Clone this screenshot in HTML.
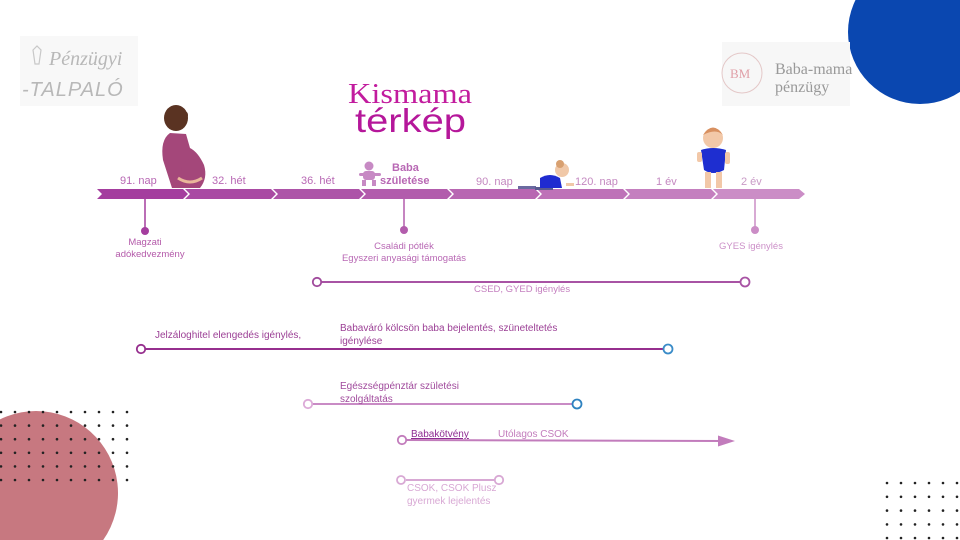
<!DOCTYPE html>
<html><head><meta charset="utf-8">
<style>
html,body{margin:0;padding:0;background:#fff;width:960px;height:540px;overflow:hidden}
svg{display:block;overflow:hidden}
</style></head><body>
<svg width="960" height="540" viewBox="0 0 960 540" xmlns="http://www.w3.org/2000/svg" font-family="Liberation Sans, sans-serif">
<!-- blue circle -->
<circle cx="920" cy="32" r="72" fill="#0a47b0"/>
<!-- bottom-left -->
<path d="M103.2 540 A82 82 0 1 0 -31.2 540 Z" fill="#c77880"/>
<g fill="#222">
<g id="rowl">
<circle cx="1" cy="412" r="1.3"/><circle cx="15" cy="412" r="1.3"/><circle cx="29" cy="412" r="1.3"/><circle cx="43" cy="412" r="1.3"/><circle cx="57" cy="412" r="1.3"/><circle cx="71" cy="412" r="1.3"/><circle cx="85" cy="412" r="1.3"/><circle cx="99" cy="412" r="1.3"/><circle cx="113" cy="412" r="1.3"/><circle cx="127" cy="412" r="1.3"/>
</g>
<use href="#rowl" y="13.6"/><use href="#rowl" y="27.2"/><use href="#rowl" y="40.8"/><use href="#rowl" y="54.4"/><use href="#rowl" y="68"/>
<g id="rowr">
<circle cx="887" cy="483" r="1.3"/><circle cx="901" cy="483" r="1.3"/><circle cx="915" cy="483" r="1.3"/><circle cx="929" cy="483" r="1.3"/><circle cx="943" cy="483" r="1.3"/><circle cx="957" cy="483" r="1.3"/>
</g>
<use href="#rowr" y="13.8"/><use href="#rowr" y="27.6"/><use href="#rowr" y="41.4"/><use href="#rowr" y="55"/>
</g>
<!-- logos -->
<rect x="20" y="36" width="118" height="70" fill="#f8f8f8"/>
<path d="M33 50 l4 -4 l4 4 l-2 14 h-4 z" fill="none" stroke="#c8c8c8" stroke-width="1.2"/>
<text x="49" y="65" font-family="Liberation Serif, serif" font-style="italic" font-size="20" fill="#b8b8b8">Pénzügyi</text>
<text x="22" y="96" font-size="20" font-style="italic" fill="#b8b8b8" letter-spacing="1">-TALPALÓ</text>
<rect x="722" y="42" width="128" height="64" fill="#f7f7f7"/>
<circle cx="742" cy="73" r="20" fill="none" stroke="#e4c8c8" stroke-width="1"/>
<text x="730" y="78" font-size="13" fill="#e0a0a8" font-family="Liberation Serif, serif">BM</text>
<text x="775" y="74" font-family="Liberation Serif, serif" font-size="16" fill="#999">Baba-mama</text>
<text x="775" y="92" font-family="Liberation Serif, serif" font-size="16" fill="#999">pénzügy</text>
<!-- title -->
<text x="348" y="103" font-family="Liberation Serif, serif" font-size="29" fill="#c21c9e" textLength="124" lengthAdjust="spacingAndGlyphs">Kismama</text>
<text x="355" y="132" font-size="33" fill="#b5179a" textLength="111" lengthAdjust="spacingAndGlyphs">térkép</text>
<!-- timeline -->
<g>
<polygon points="97,189 183,189 188,194 183,199 97,199 102,194" fill="#a43d9e"/>
<polygon points="185,189 271,189 276,194 271,199 185,199 190,194" fill="#a94aa3"/>
<polygon points="273,189 359,189 364,194 359,199 273,199 278,194" fill="#ad54a8"/>
<polygon points="361,189 447,189 452,194 447,199 361,199 366,194" fill="#b25cac"/>
<polygon points="449,189 535,189 540,194 535,199 449,199 454,194" fill="#b866b2"/>
<polygon points="537,189 623,189 628,194 623,199 537,199 542,194" fill="#be72b8"/>
<polygon points="625,189 711,189 716,194 711,199 625,199 630,194" fill="#c47fbf"/>
<polygon points="713,189 799,189 805,194 799,199 713,199 718,194" fill="#cb8dc6"/>
</g>
<g font-size="11" fill="#b868b4">
<text x="120" y="184">91. nap</text>
<text x="212" y="184">32. hét</text>
<text x="301" y="184">36. hét</text>
<text x="392" y="171" font-weight="bold">Baba</text>
<text x="380" y="184" font-weight="bold">születése</text>
<text x="476" y="185" fill="#c488c0">90. nap</text>
<text x="575" y="185" fill="#c488c0">120. nap</text>
<text x="656" y="185" fill="#c488c0">1 év</text>
<text x="741" y="185" fill="#c99ac6">2 év</text>
</g>
<!-- pregnant woman -->
<ellipse cx="176" cy="118" rx="12" ry="13" fill="#5a3322"/>
<circle cx="184" cy="115" r="4" fill="#5a3322"/>
<path d="M170 133 Q160 140 163 160 L172 188 L200 188 Q208 178 204 165 Q198 152 190 148 L186 134 Z" fill="#a4477a"/>
<ellipse cx="193" cy="172" rx="12" ry="13" fill="#a4477a"/>
<path d="M178 178 Q190 186 202 178" stroke="#e9b79a" stroke-width="3" fill="none"/>
<!-- baby sitting -->
<g fill="#c78ac4">
<circle cx="369" cy="166" r="4.5"/>
<rect x="363" y="171" width="12" height="9" rx="3"/>
<rect x="359" y="173" width="22" height="3" rx="1.5"/>
<rect x="362" y="180" width="4" height="6"/><rect x="372" y="180" width="4" height="6"/>
</g>
<!-- crawling baby -->
<rect x="518" y="186" width="18" height="3" fill="#6a6aa0"/>
<rect x="535" y="187" width="18" height="3" fill="#5a5a90"/>
<path d="M540 178 Q550 172 560 178 L562 188 L540 188 Z" fill="#1f2bd0"/>
<circle cx="562" cy="170" r="7" fill="#f0c8a8"/>
<circle cx="560" cy="164" r="4" fill="#d8a070"/>
<rect x="566" y="183" width="8" height="3" fill="#f0c8a8"/>
<!-- toddler -->
<circle cx="713" cy="138" r="10" fill="#f2c8a8"/>
<path d="M703 135 Q713 120 723 135 Q716 128 703 135Z" fill="#d89060"/>
<path d="M701 150 Q713 146 726 150 L724 170 Q713 176 704 170 Z" fill="#1e2ed0"/>
<rect x="697" y="152" width="5" height="10" rx="2" fill="#f2c8a8"/>
<rect x="725" y="152" width="5" height="12" rx="2" fill="#f2c8a8"/>
<rect x="705" y="172" width="6" height="16" fill="#f2c8a8"/>
<rect x="716" y="172" width="6" height="16" fill="#f2c8a8"/>
<!-- pins -->
<line x1="145" y1="199" x2="145" y2="230" stroke="#a43d9e" stroke-width="1.5"/>
<circle cx="145" cy="231" r="4" fill="#a43d9e"/>
<line x1="404" y1="199" x2="404" y2="229" stroke="#b25cac" stroke-width="1.5"/>
<circle cx="404" cy="230" r="4" fill="#b25cac"/>
<line x1="755" y1="199" x2="755" y2="229" stroke="#cb8dc6" stroke-width="1.5"/>
<circle cx="755" cy="230" r="4" fill="#cb8dc6"/>
<g font-size="9.5" text-anchor="middle">
<text x="145" y="245" fill="#b45aaa">Magzati</text>
<text x="150" y="257" fill="#b45aaa">adókedvezmény</text>
<text x="404" y="249" fill="#b868b4">Családi pótlék</text>
<text x="404" y="261" fill="#b868b4">Egyszeri anyasági támogatás</text>
<text x="751" y="249" fill="#cc90c8">GYES igénylés</text>
</g>
<!-- ranges -->
<line x1="321" y1="282" x2="740" y2="282" stroke="#a853a4" stroke-width="2"/>
<circle cx="317" cy="282" r="4.2" fill="#fff" stroke="#a04a9c" stroke-width="1.8"/>
<circle cx="745" cy="282" r="4.5" fill="#fff" stroke="#a853a4" stroke-width="1.8"/>
<text x="474" y="292" font-size="9.5" fill="#c47fbf">CSED, GYED igénylés</text>

<line x1="145" y1="349" x2="663" y2="349" stroke="#962f8e" stroke-width="2"/>
<circle cx="141" cy="349" r="4.2" fill="#fff" stroke="#962f8e" stroke-width="1.8"/>
<circle cx="668" cy="349" r="4.5" fill="#fff" stroke="#3a8cc8" stroke-width="1.8"/>
<text x="155" y="338" font-size="10" fill="#9b3f95">Jelzáloghitel elengedés igénylés,</text>
<text x="340" y="331" font-size="10" fill="#9b3f95">Babaváró kölcsön baba bejelentés, szüneteltetés</text>
<text x="340" y="344" font-size="10" fill="#9b3f95">igénylése</text>

<line x1="312" y1="404" x2="572" y2="404" stroke="#c98bc5" stroke-width="2"/>
<circle cx="308" cy="404" r="4.2" fill="#fff" stroke="#dcaad8" stroke-width="1.8"/>
<circle cx="577" cy="404" r="4.5" fill="#fff" stroke="#2e82c0" stroke-width="1.8"/>
<text x="340" y="389" font-size="10" fill="#a04a9c">Egészségpénztár születési</text>
<text x="340" y="402" font-size="10" fill="#a04a9c">szolgáltatás</text>

<line x1="406" y1="440" x2="725" y2="441" stroke="#c27cbc" stroke-width="2"/>
<polygon points="735,441 718,435.5 718,446.5" fill="#c27cbc"/>
<circle cx="402" cy="440" r="4.2" fill="#fff" stroke="#c27cbc" stroke-width="1.8"/>
<text x="411" y="437" font-size="10" fill="#8e2c92" text-decoration="underline">Babakötvény</text>
<text x="498" y="437" font-size="10" fill="#c27cbc">Utólagos CSOK</text>

<line x1="406" y1="480" x2="495" y2="480" stroke="#d8a8d4" stroke-width="2"/>
<circle cx="401" cy="480" r="4" fill="#fff" stroke="#d8a8d4" stroke-width="1.8"/>
<circle cx="499" cy="480" r="4.2" fill="#fff" stroke="#d8a8d4" stroke-width="1.8"/>
<text x="407" y="491" font-size="10" fill="#d8a8d4">CSOK, CSOK Plusz</text>
<text x="407" y="504" font-size="10" fill="#d8a8d4">gyermek lejelentés</text>
</svg>
</body></html>
